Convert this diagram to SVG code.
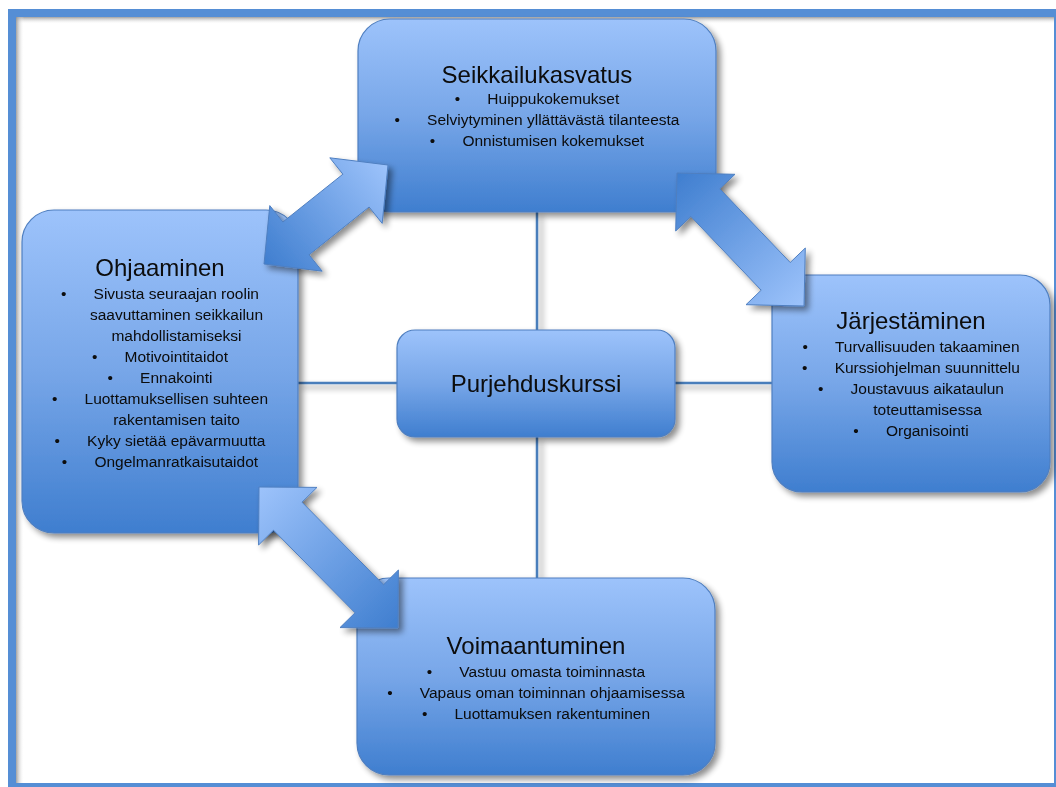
<svg xmlns="http://www.w3.org/2000/svg" width="1056" height="787" viewBox="0 0 1056 787">
<style>
.box{stroke:#4f7fc0;stroke-width:1.2;fill:url(#boxg)}
.t{font-family:"Liberation Sans",Arial,sans-serif;fill:#0a0a0a;text-anchor:middle}
.title{font-size:24px}
.b{font-size:15.5px}
.conn{stroke:#4a7ebb;stroke-width:2.5;fill:none}
.arrow{stroke:#4f7fc0;stroke-width:1}
</style>
<defs>
<linearGradient id="boxg" x1="0" y1="0" x2="0" y2="1">
<stop offset="0" stop-color="#9dc3fb"/>
<stop offset="0.5" stop-color="#77a6e8"/>
<stop offset="1" stop-color="#3f7ecf"/>
</linearGradient>
<linearGradient id="a1g" gradientUnits="userSpaceOnUse" x1="264" y1="264" x2="388" y2="165">
<stop offset="0" stop-color="#3f7ecf"/>
<stop offset="1" stop-color="#9dc3fb"/>
</linearGradient>
<linearGradient id="a2g" gradientUnits="userSpaceOnUse" x1="677" y1="173" x2="804" y2="306">
<stop offset="0" stop-color="#3f7ecf"/>
<stop offset="1" stop-color="#9dc3fb"/>
</linearGradient>
<linearGradient id="a3g" gradientUnits="userSpaceOnUse" x1="259" y1="487" x2="398" y2="628">
<stop offset="0" stop-color="#9dc3fb"/>
<stop offset="1" stop-color="#3f7ecf"/>
</linearGradient>
<linearGradient id="shT" x1="0" y1="0" x2="0" y2="1">
<stop offset="0" stop-color="#8a8a8a" stop-opacity="0.8"/>
<stop offset="1" stop-color="#ffffff" stop-opacity="0"/>
</linearGradient>
<linearGradient id="shL" x1="0" y1="0" x2="1" y2="0">
<stop offset="0" stop-color="#8a8a8a" stop-opacity="0.8"/>
<stop offset="1" stop-color="#ffffff" stop-opacity="0"/>
</linearGradient>
<filter id="sh" x="-10%" y="-10%" width="125%" height="125%">
<feGaussianBlur in="SourceAlpha" stdDeviation="3"/>
<feOffset dx="4" dy="4" result="o"/>
<feComponentTransfer><feFuncA type="linear" slope="0.45"/></feComponentTransfer>
<feMerge><feMergeNode/><feMergeNode in="SourceGraphic"/></feMerge>
</filter>
</defs>
<rect x="0" y="0" width="1056" height="787" fill="#ffffff"/>
<g id="frame">
<rect x="12" y="13" width="1046" height="774" fill="none" stroke="#558ed5" stroke-width="8"/>
<rect x="16" y="17" width="1038" height="7" fill="url(#shT)"/>
<rect x="16" y="17" width="8" height="766" fill="url(#shL)"/>
</g>
<g id="connectors" filter="url(#sh)">
<line class="conn" x1="537" y1="212" x2="537" y2="330"/>
<line class="conn" x1="537" y1="437" x2="537" y2="578"/>
<line class="conn" x1="298" y1="383" x2="397" y2="383"/>
<line class="conn" x1="675" y1="383" x2="772" y2="383"/>
</g>
<g id="seikkailukasvatus" filter="url(#sh)">
<rect class="box" x="358" y="19" width="358" height="193" rx="32"/>
<text class="t title" x="537" y="83">Seikkailukasvatus</text>
<text class="t b" x="537" y="104">•&#8195;&#8194;&#8197;Huippukokemukset</text>
<text class="t b" x="537" y="125">•&#8195;&#8194;&#8197;Selviytyminen  yllättävästä tilanteesta</text>
<text class="t b" x="537" y="146">•&#8195;&#8194;&#8197;Onnistumisen kokemukset</text>
</g>
<g id="ohjaaminen" filter="url(#sh)">
<rect class="box" x="22" y="210" width="276" height="323" rx="32"/>
<text class="t title" x="160" y="276">Ohjaaminen</text>
<text class="t b" x="160" y="299">•&#8195;&#8194;&#8197;Sivusta seuraajan roolin</text>
<text class="t b" x="176.5" y="320">saavuttaminen seikkailun</text>
<text class="t b" x="176.5" y="341">mahdollistamiseksi</text>
<text class="t b" x="160" y="362">•&#8195;&#8194;&#8197;Motivointitaidot</text>
<text class="t b" x="160" y="383">•&#8195;&#8194;&#8197;Ennakointi</text>
<text class="t b" x="160" y="404">•&#8195;&#8194;&#8197;Luottamuksellisen suhteen</text>
<text class="t b" x="176.5" y="425">rakentamisen taito</text>
<text class="t b" x="160" y="446">•&#8195;&#8194;&#8197;Kyky sietää epävarmuutta</text>
<text class="t b" x="160" y="467">•&#8195;&#8194;&#8197;Ongelmanratkaisutaidot</text>
</g>
<g id="jarjestaminen" filter="url(#sh)">
<rect class="box" x="772" y="275" width="278" height="217" rx="30"/>
<text class="t title" x="911" y="329">Järjestäminen</text>
<text class="t b" x="911" y="352">•&#8195;&#8194;&#8197;Turvallisuuden takaaminen</text>
<text class="t b" x="911" y="373">•&#8195;&#8194;&#8197;Kurssiohjelman suunnittelu</text>
<text class="t b" x="911" y="394">•&#8195;&#8194;&#8197;Joustavuus aikataulun</text>
<text class="t b" x="927.5" y="415">toteuttamisessa</text>
<text class="t b" x="911" y="436">•&#8195;&#8194;&#8197;Organisointi</text>
</g>
<g id="voimaantuminen" filter="url(#sh)">
<rect class="box" x="357" y="578" width="358" height="197" rx="32"/>
<text class="t title" x="536" y="654">Voimaantuminen</text>
<text class="t b" x="536" y="677">•&#8195;&#8194;&#8197;Vastuu omasta toiminnasta</text>
<text class="t b" x="536" y="698">•&#8195;&#8194;&#8197;Vapaus oman toiminnan ohjaamisessa</text>
<text class="t b" x="536" y="719">•&#8195;&#8194;&#8197;Luottamuksen rakentuminen</text>
</g>
<g id="purjehduskurssi" filter="url(#sh)">
<rect class="box" x="397" y="330" width="278" height="107" rx="18"/>
<text class="t title" x="536" y="392">Purjehduskurssi</text>
</g>
<g id="arrows" filter="url(#sh)">
<polygon class="arrow" fill="url(#a1g)" points="264,264 269.8,205.6 282.9,222.0 342.9,174.2 329.8,157.8 388,165 382.2,223.4 369.1,207.0 309.1,254.8 322.2,271.2"/>
<polygon class="arrow" fill="url(#a2g)" points="677,173 735.0,174.3 719.8,188.8 790.2,262.5 805.3,248.0 804,306 746.0,304.7 761.2,290.2 690.9,216.5 675.7,231.0"/>
<polygon class="arrow" fill="url(#a3g)" points="259,487 317.0,487.4 302.0,502.2 383.5,584.8 398.4,570.0 398,628 340.0,627.6 355.0,612.8 273.5,530.2 258.6,545.0"/>
</g>
</svg>
